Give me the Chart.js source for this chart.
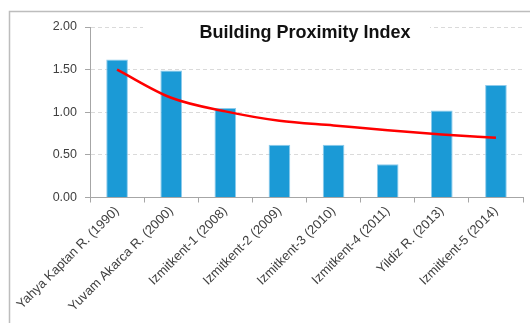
<!DOCTYPE html>
<html>
<head>
<meta charset="utf-8">
<script src="https://cdn.jsdelivr.net/npm/chart.js@4.4.1/dist/chart.umd.min.js"></script>
<style>
  html, body { margin: 0; padding: 0; background: #fff; }
  #wrap { width: 530px; height: 323px; position: relative; }
</style>
</head>
<body>
<div id="wrap"><canvas id="proximity"></canvas></div>
<script>
// Building proximity index per settlement
const sites = [
    'Yahya Kaptan R. (1990)',
    'Yuvam Akarca R. (2000)',
    'Izmitkent-1 (2008)',
    'Izmitkent-2 (2009)',
    'Izmitkent-3 (2010)',
    'Izmitkent-4 (2011)',
    'Yildiz R. (2013)',
    'Izmitkent-5 (2014)'
];
const proximity = [1.62, 1.49, 1.05, 0.62, 0.62, 0.39, 1.02, 1.32];
// trend curve, read per category
const trend = [1.50, 1.17, 1.01, 0.90, 0.845, 0.79, 0.74, 0.70];
const yTicks = [0, 0.5, 1, 1.5, 2];

const axisGray = '#a6a6a6';
const textGray = '#404040';

// outer frame: top + left edges only
const framePlugin = {
    id: 'frame',
    beforeDraw(chart) {
        const ctx = chart.ctx;
        ctx.save();
        ctx.strokeStyle = '#bdbdbd';
        ctx.lineWidth = 1.5;
        ctx.beginPath();
        ctx.moveTo(9.5, 330);
        ctx.lineTo(9.5, 11.5);
        ctx.lineTo(540, 11.5);
        ctx.stroke();
        ctx.restore();
    }
};

// title sits inside the plot, over the top gridline
const titlePlugin = {
    id: 'innerTitle',
    afterDraw(chart) {
        const ctx = chart.ctx;
        ctx.save();
        ctx.fillStyle = '#fff';
        ctx.fillRect(143, 18, 287, 26);
        ctx.fillStyle = '#111';
        ctx.font = 'bold 18px "Liberation Sans", Arial, sans-serif';
        ctx.textAlign = 'center';
        ctx.textBaseline = 'alphabetic';
        ctx.fillText('Building Proximity Index', 305, 38);
        ctx.restore();
    }
};

new Chart(document.getElementById('proximity'), {
    data: {
        labels: sites,
        datasets: [
            {
                type: 'line',
                data: trend,
                borderColor: '#ff0000',
                borderWidth: 2.5,
                pointRadius: 0,
                cubicInterpolationMode: 'monotone',
                order: 0
            },
            {
                type: 'bar',
                data: proximity,
                backgroundColor: '#1b9ad6',
                borderColor: '#8dcbec',
                borderWidth: 1,
                barPercentage: 0.4,
                categoryPercentage: 1,
                order: 1
            }
        ]
    },
    options: {
        responsive: true,
        maintainAspectRatio: false,
        animation: false,
        layout: { padding: { top: 27, right: 7, left: 0, bottom: 0 } },
        plugins: { legend: { display: false }, tooltip: { enabled: false } },
        scales: {
            x: {
                offset: true,
                afterFit: s => { s.height = 125.5; },
                grid: { offset: true, drawOnChartArea: false, tickLength: 5, color: axisGray },
                border: { color: axisGray, width: 1 },
                ticks: {
                    minRotation: 45, maxRotation: 45, padding: 1,
                    color: textGray,
                    font: { family: '"Liberation Sans", Arial, sans-serif', size: 13 }
                }
            },
            y: {
                min: 0, max: 2,
                afterFit: s => { s.width = 90; },
                afterBuildTicks: s => { s.ticks = yTicks.map(v => ({ value: v })); },
                grid: { color: '#dadada', tickColor: axisGray, tickLength: 5 },
                border: { color: axisGray, width: 1, dash: [4, 3] },
                ticks: {
                    padding: 8,
                    color: textGray,
                    font: { family: '"Liberation Sans", Arial, sans-serif', size: 12.5 },
                    callback: v => v.toFixed(2)
                }
            }
        }
    },
    plugins: [framePlugin, titlePlugin]
});
</script>
</body>
</html>
